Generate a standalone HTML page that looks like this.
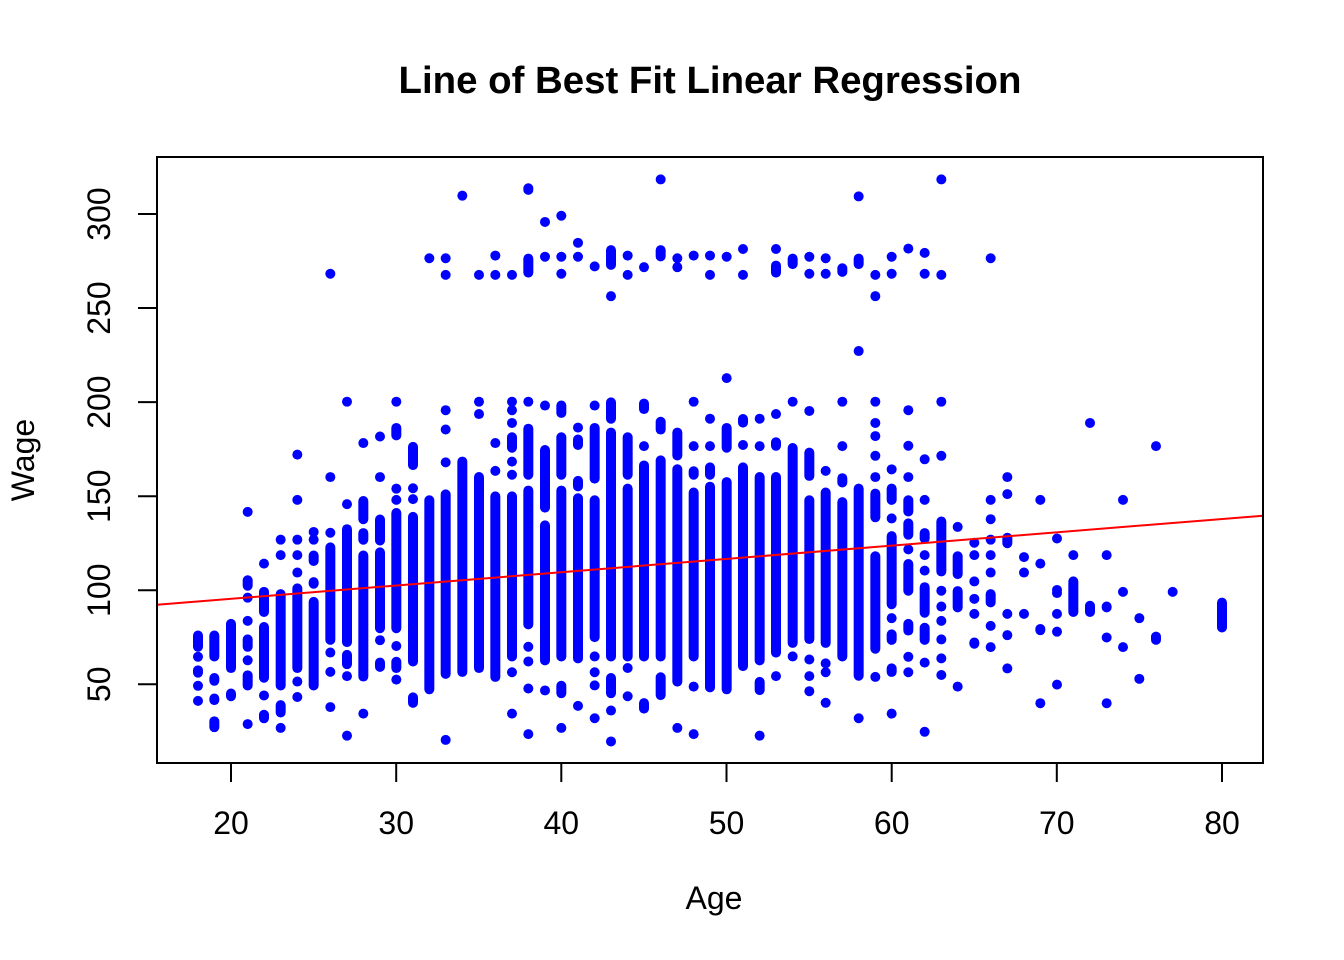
<!DOCTYPE html>
<html><head><meta charset="utf-8"><style>
html,body{margin:0;padding:0;background:#fff;}
svg{display:block;}
text{font-family:"Liberation Sans",Arial,sans-serif;fill:#000;}
</style></head><body>
<svg width="1344" height="960" viewBox="0 0 1344 960" xmlns="http://www.w3.org/2000/svg">
<rect width="1344" height="960" fill="#fff"/>
<text x="710" y="93" font-size="38.4" font-weight="bold" text-anchor="middle">Line of Best Fit Linear Regression</text>

<!-- points group 1: ages 18-37 -->
<g fill="#0000FF" transform="translate(157,157) scale(0.333333,0.38655)">
<rect x="108" y="1225" width="30" height="55" rx="15" ry="12.93"/><ellipse cx="123" cy="1293" rx="15" ry="12.93"/><rect x="108" y="1315" width="30" height="32" rx="15" ry="12.93"/><ellipse cx="123" cy="1368" rx="15" ry="12.93"/><ellipse cx="123" cy="1407" rx="15" ry="12.93"/>
<rect x="157" y="1225" width="30" height="80" rx="15" ry="12.93"/><rect x="157" y="1335" width="30" height="33" rx="15" ry="12.93"/><rect x="157" y="1388" width="30" height="30" rx="15" ry="12.93"/><rect x="157" y="1447" width="30" height="41" rx="15" ry="12.93"/>
<rect x="207" y="1195" width="30" height="140" rx="15" ry="12.93"/><rect x="207" y="1375" width="30" height="33" rx="15" ry="12.93"/>
<ellipse cx="272" cy="918" rx="15" ry="12.93"/><rect x="257" y="1082" width="30" height="40" rx="15" ry="12.93"/><ellipse cx="272" cy="1140" rx="15" ry="12.93"/><ellipse cx="272" cy="1200" rx="15" ry="12.93"/><rect x="257" y="1235" width="30" height="45" rx="15" ry="12.93"/><ellipse cx="272" cy="1302" rx="15" ry="12.93"/><rect x="257" y="1328" width="30" height="52" rx="15" ry="12.93"/><ellipse cx="272" cy="1467" rx="15" ry="12.93"/>
<ellipse cx="321" cy="1052" rx="15" ry="12.93"/><rect x="306" y="1112" width="30" height="78" rx="15" ry="12.93"/><rect x="306" y="1203" width="30" height="157" rx="15" ry="12.93"/><ellipse cx="321" cy="1393" rx="15" ry="12.93"/><rect x="306" y="1430" width="30" height="35" rx="15" ry="12.93"/>
<ellipse cx="371" cy="990" rx="15" ry="12.93"/><ellipse cx="371" cy="1030" rx="15" ry="12.93"/><rect x="356" y="1118" width="30" height="262" rx="15" ry="12.93"/><rect x="356" y="1405" width="30" height="45" rx="15" ry="12.93"/><ellipse cx="371" cy="1477" rx="15" ry="12.93"/>
<ellipse cx="421" cy="770" rx="15" ry="12.93"/><ellipse cx="421" cy="887" rx="15" ry="12.93"/><ellipse cx="421" cy="990" rx="15" ry="12.93"/><ellipse cx="421" cy="1030" rx="15" ry="12.93"/><ellipse cx="421" cy="1075" rx="15" ry="12.93"/><rect x="406" y="1103" width="30" height="232" rx="15" ry="12.93"/><ellipse cx="421" cy="1357" rx="15" ry="12.93"/><ellipse cx="421" cy="1397" rx="15" ry="12.93"/>
<ellipse cx="470" cy="970" rx="15" ry="12.93"/><ellipse cx="470" cy="990" rx="15" ry="12.93"/><rect x="455" y="1018" width="30" height="40" rx="15" ry="12.93"/><rect x="455" y="1087" width="30" height="30" rx="15" ry="12.93"/><rect x="455" y="1138" width="30" height="242" rx="15" ry="12.93"/>
<ellipse cx="520" cy="302" rx="15" ry="12.93"/><ellipse cx="520" cy="828" rx="15" ry="12.93"/><ellipse cx="520" cy="972" rx="15" ry="12.93"/><rect x="505" y="997" width="30" height="265" rx="15" ry="12.93"/><ellipse cx="520" cy="1282" rx="15" ry="12.93"/><ellipse cx="520" cy="1332" rx="15" ry="12.93"/><ellipse cx="520" cy="1423" rx="15" ry="12.93"/>
<ellipse cx="570" cy="633" rx="15" ry="12.93"/><ellipse cx="570" cy="898" rx="15" ry="12.93"/><rect x="555" y="950" width="30" height="318" rx="15" ry="12.93"/><rect x="555" y="1275" width="30" height="50" rx="15" ry="12.93"/><ellipse cx="570" cy="1343" rx="15" ry="12.93"/><ellipse cx="570" cy="1497" rx="15" ry="12.93"/>
<ellipse cx="619" cy="740" rx="15" ry="12.93"/><rect x="604" y="877" width="30" height="73" rx="15" ry="12.93"/><rect x="604" y="960" width="30" height="43" rx="15" ry="12.93"/><rect x="604" y="1018" width="30" height="339" rx="15" ry="12.93"/><ellipse cx="619" cy="1440" rx="15" ry="12.93"/>
<ellipse cx="669" cy="723" rx="15" ry="12.93"/><ellipse cx="669" cy="828" rx="15" ry="12.93"/><rect x="654" y="925" width="30" height="80" rx="15" ry="12.93"/><rect x="654" y="1010" width="30" height="222" rx="15" ry="12.93"/><ellipse cx="669" cy="1250" rx="15" ry="12.93"/><rect x="654" y="1295" width="30" height="37" rx="15" ry="12.93"/>
<ellipse cx="718" cy="633" rx="15" ry="12.93"/><rect x="703" y="688" width="30" height="45" rx="15" ry="12.93"/><ellipse cx="718" cy="858" rx="15" ry="12.93"/><ellipse cx="718" cy="887" rx="15" ry="12.93"/><rect x="703" y="908" width="30" height="324" rx="15" ry="12.93"/><ellipse cx="718" cy="1265" rx="15" ry="12.93"/><rect x="703" y="1293" width="30" height="42" rx="15" ry="12.93"/><ellipse cx="718" cy="1352" rx="15" ry="12.93"/>
<rect x="753" y="737" width="30" height="73" rx="15" ry="12.93"/><ellipse cx="768" cy="857" rx="15" ry="12.93"/><ellipse cx="768" cy="885" rx="15" ry="12.93"/><rect x="753" y="918" width="30" height="400" rx="15" ry="12.93"/><rect x="753" y="1385" width="30" height="40" rx="15" ry="12.93"/>
<ellipse cx="817" cy="262" rx="15" ry="12.93"/><rect x="802" y="875" width="30" height="515" rx="15" ry="12.93"/>
<ellipse cx="866" cy="262" rx="15" ry="12.93"/><ellipse cx="866" cy="305" rx="15" ry="12.93"/><ellipse cx="866" cy="655" rx="15" ry="12.93"/><ellipse cx="866" cy="705" rx="15" ry="12.93"/><ellipse cx="866" cy="790" rx="15" ry="12.93"/><rect x="851" y="860" width="30" height="490" rx="15" ry="12.93"/><ellipse cx="866" cy="1508" rx="15" ry="12.93"/>
<ellipse cx="916" cy="100" rx="15" ry="12.93"/><rect x="901" y="775" width="30" height="570" rx="15" ry="12.93"/>
<ellipse cx="966" cy="305" rx="15" ry="12.93"/><ellipse cx="966" cy="633" rx="15" ry="12.93"/><ellipse cx="966" cy="665" rx="15" ry="12.93"/><rect x="951" y="815" width="30" height="520" rx="15" ry="12.93"/>
<ellipse cx="1015" cy="255" rx="15" ry="12.93"/><ellipse cx="1015" cy="305" rx="15" ry="12.93"/><ellipse cx="1015" cy="740" rx="15" ry="12.93"/><ellipse cx="1015" cy="812" rx="15" ry="12.93"/><rect x="1000" y="865" width="30" height="493" rx="15" ry="12.93"/>
<ellipse cx="1065" cy="305" rx="15" ry="12.93"/><ellipse cx="1065" cy="633" rx="15" ry="12.93"/><ellipse cx="1065" cy="655" rx="15" ry="12.93"/><ellipse cx="1065" cy="688" rx="15" ry="12.93"/><rect x="1050" y="712" width="30" height="53" rx="15" ry="12.93"/><ellipse cx="1065" cy="788" rx="15" ry="12.93"/><ellipse cx="1065" cy="822" rx="15" ry="12.93"/><rect x="1050" y="865" width="30" height="440" rx="15" ry="12.93"/><ellipse cx="1065" cy="1333" rx="15" ry="12.93"/><ellipse cx="1065" cy="1440" rx="15" ry="12.93"/>
</g>

<!-- points group 2: ages 38-59 -->
<g fill="#0000FF" transform="translate(520,157) scale(0.333333,0.38655)">
<rect x="10" y="68" width="30" height="30" rx="15" ry="12.93"/><rect x="10" y="250" width="30" height="62" rx="15" ry="12.93"/><ellipse cx="25" cy="633" rx="15" ry="12.93"/><rect x="10" y="690" width="30" height="145" rx="15" ry="12.93"/><rect x="10" y="850" width="30" height="372" rx="15" ry="12.93"/><ellipse cx="25" cy="1267" rx="15" ry="12.93"/><ellipse cx="25" cy="1305" rx="15" ry="12.93"/><ellipse cx="25" cy="1375" rx="15" ry="12.93"/><ellipse cx="25" cy="1493" rx="15" ry="12.93"/>
<ellipse cx="75" cy="168" rx="15" ry="12.93"/><ellipse cx="75" cy="258" rx="15" ry="12.93"/><ellipse cx="75" cy="643" rx="15" ry="12.93"/><rect x="60" y="745" width="30" height="175" rx="15" ry="12.93"/><rect x="60" y="940" width="30" height="375" rx="15" ry="12.93"/><ellipse cx="75" cy="1380" rx="15" ry="12.93"/>
<ellipse cx="124" cy="152" rx="15" ry="12.93"/><ellipse cx="124" cy="258" rx="15" ry="12.93"/><ellipse cx="124" cy="302" rx="15" ry="12.93"/><rect x="109" y="630" width="30" height="45" rx="15" ry="12.93"/><rect x="109" y="712" width="30" height="123" rx="15" ry="12.93"/><rect x="109" y="850" width="30" height="455" rx="15" ry="12.93"/><rect x="109" y="1355" width="30" height="45" rx="15" ry="12.93"/><ellipse cx="124" cy="1477" rx="15" ry="12.93"/>
<ellipse cx="174" cy="222" rx="15" ry="12.93"/><ellipse cx="174" cy="258" rx="15" ry="12.93"/><ellipse cx="174" cy="700" rx="15" ry="12.93"/><rect x="159" y="718" width="30" height="40" rx="15" ry="12.93"/><rect x="159" y="825" width="30" height="40" rx="15" ry="12.93"/><rect x="159" y="870" width="30" height="440" rx="15" ry="12.93"/><ellipse cx="174" cy="1420" rx="15" ry="12.93"/>
<ellipse cx="224" cy="283" rx="15" ry="12.93"/><ellipse cx="224" cy="643" rx="15" ry="12.93"/><rect x="209" y="688" width="30" height="157" rx="15" ry="12.93"/><rect x="209" y="875" width="30" height="380" rx="15" ry="12.93"/><ellipse cx="224" cy="1292" rx="15" ry="12.93"/><ellipse cx="224" cy="1333" rx="15" ry="12.93"/><ellipse cx="224" cy="1367" rx="15" ry="12.93"/><ellipse cx="224" cy="1452" rx="15" ry="12.93"/>
<rect x="258" y="228" width="30" height="64" rx="15" ry="12.93"/><ellipse cx="273" cy="360" rx="15" ry="12.93"/><rect x="258" y="622" width="30" height="68" rx="15" ry="12.93"/><rect x="258" y="700" width="30" height="605" rx="15" ry="12.93"/><rect x="258" y="1335" width="30" height="65" rx="15" ry="12.93"/><ellipse cx="273" cy="1432" rx="15" ry="12.93"/><ellipse cx="273" cy="1512" rx="15" ry="12.93"/>
<ellipse cx="323" cy="255" rx="15" ry="12.93"/><ellipse cx="323" cy="305" rx="15" ry="12.93"/><rect x="308" y="712" width="30" height="123" rx="15" ry="12.93"/><rect x="308" y="845" width="30" height="460" rx="15" ry="12.93"/><ellipse cx="323" cy="1322" rx="15" ry="12.93"/><ellipse cx="323" cy="1395" rx="15" ry="12.93"/>
<ellipse cx="372" cy="285" rx="15" ry="12.93"/><rect x="357" y="625" width="30" height="40" rx="15" ry="12.93"/><ellipse cx="372" cy="748" rx="15" ry="12.93"/><rect x="357" y="785" width="30" height="520" rx="15" ry="12.93"/><rect x="357" y="1400" width="30" height="40" rx="15" ry="12.93"/>
<ellipse cx="422" cy="58" rx="15" ry="12.93"/><rect x="407" y="228" width="30" height="42" rx="15" ry="12.93"/><rect x="407" y="672" width="30" height="46" rx="15" ry="12.93"/><rect x="407" y="772" width="30" height="533" rx="15" ry="12.93"/><rect x="407" y="1333" width="30" height="72" rx="15" ry="12.93"/>
<ellipse cx="472" cy="262" rx="15" ry="12.93"/><ellipse cx="472" cy="285" rx="15" ry="12.93"/><rect x="457" y="700" width="30" height="85" rx="15" ry="12.93"/><rect x="457" y="795" width="30" height="575" rx="15" ry="12.93"/><ellipse cx="472" cy="1477" rx="15" ry="12.93"/>
<ellipse cx="521" cy="255" rx="15" ry="12.93"/><ellipse cx="521" cy="633" rx="15" ry="12.93"/><ellipse cx="521" cy="748" rx="15" ry="12.93"/><rect x="506" y="800" width="30" height="35" rx="15" ry="12.93"/><rect x="506" y="855" width="30" height="450" rx="15" ry="12.93"/><ellipse cx="521" cy="1370" rx="15" ry="12.93"/><ellipse cx="521" cy="1493" rx="15" ry="12.93"/>
<ellipse cx="570" cy="255" rx="15" ry="12.93"/><ellipse cx="570" cy="305" rx="15" ry="12.93"/><ellipse cx="570" cy="677" rx="15" ry="12.93"/><ellipse cx="570" cy="748" rx="15" ry="12.93"/><rect x="555" y="790" width="30" height="45" rx="15" ry="12.93"/><rect x="555" y="840" width="30" height="545" rx="15" ry="12.93"/>
<ellipse cx="620" cy="258" rx="15" ry="12.93"/><ellipse cx="620" cy="572" rx="15" ry="12.93"/><rect x="605" y="688" width="30" height="77" rx="15" ry="12.93"/><rect x="605" y="828" width="30" height="562" rx="15" ry="12.93"/>
<ellipse cx="669" cy="238" rx="15" ry="12.93"/><ellipse cx="669" cy="305" rx="15" ry="12.93"/><rect x="654" y="665" width="30" height="35" rx="15" ry="12.93"/><ellipse cx="669" cy="745" rx="15" ry="12.93"/><rect x="654" y="790" width="30" height="540" rx="15" ry="12.93"/>
<ellipse cx="719" cy="677" rx="15" ry="12.93"/><ellipse cx="719" cy="748" rx="15" ry="12.93"/><rect x="704" y="815" width="30" height="500" rx="15" ry="12.93"/><rect x="704" y="1345" width="30" height="47" rx="15" ry="12.93"/><ellipse cx="719" cy="1497" rx="15" ry="12.93"/>
<ellipse cx="768" cy="238" rx="15" ry="12.93"/><rect x="753" y="268" width="30" height="44" rx="15" ry="12.93"/><ellipse cx="768" cy="665" rx="15" ry="12.93"/><rect x="753" y="725" width="30" height="35" rx="15" ry="12.93"/><rect x="753" y="815" width="30" height="480" rx="15" ry="12.93"/><ellipse cx="768" cy="1343" rx="15" ry="12.93"/>
<rect x="803" y="250" width="30" height="40" rx="15" ry="12.93"/><ellipse cx="818" cy="633" rx="15" ry="12.93"/><rect x="803" y="740" width="30" height="530" rx="15" ry="12.93"/><ellipse cx="818" cy="1292" rx="15" ry="12.93"/>
<ellipse cx="868" cy="258" rx="15" ry="12.93"/><ellipse cx="868" cy="302" rx="15" ry="12.93"/><ellipse cx="868" cy="657" rx="15" ry="12.93"/><rect x="853" y="752" width="30" height="86" rx="15" ry="12.93"/><rect x="853" y="875" width="30" height="385" rx="15" ry="12.93"/><ellipse cx="868" cy="1300" rx="15" ry="12.93"/><ellipse cx="868" cy="1343" rx="15" ry="12.93"/><ellipse cx="868" cy="1382" rx="15" ry="12.93"/>
<ellipse cx="917" cy="262" rx="15" ry="12.93"/><ellipse cx="917" cy="302" rx="15" ry="12.93"/><ellipse cx="917" cy="812" rx="15" ry="12.93"/><rect x="902" y="855" width="30" height="415" rx="15" ry="12.93"/><ellipse cx="917" cy="1310" rx="15" ry="12.93"/><ellipse cx="917" cy="1333" rx="15" ry="12.93"/><ellipse cx="917" cy="1412" rx="15" ry="12.93"/>
<rect x="952" y="275" width="30" height="35" rx="15" ry="12.93"/><ellipse cx="967" cy="633" rx="15" ry="12.93"/><ellipse cx="967" cy="748" rx="15" ry="12.93"/><rect x="952" y="818" width="30" height="37" rx="15" ry="12.93"/><rect x="952" y="880" width="30" height="425" rx="15" ry="12.93"/>
<ellipse cx="1016" cy="102" rx="15" ry="12.93"/><rect x="1001" y="250" width="30" height="40" rx="15" ry="12.93"/><ellipse cx="1016" cy="502" rx="15" ry="12.93"/><rect x="1001" y="845" width="30" height="510" rx="15" ry="12.93"/><ellipse cx="1016" cy="1452" rx="15" ry="12.93"/>
<ellipse cx="1066" cy="305" rx="15" ry="12.93"/><ellipse cx="1066" cy="360" rx="15" ry="12.93"/><ellipse cx="1066" cy="633" rx="15" ry="12.93"/><ellipse cx="1066" cy="688" rx="15" ry="12.93"/><ellipse cx="1066" cy="722" rx="15" ry="12.93"/><ellipse cx="1066" cy="773" rx="15" ry="12.93"/><ellipse cx="1066" cy="828" rx="15" ry="12.93"/><rect x="1051" y="858" width="30" height="87" rx="15" ry="12.93"/><rect x="1051" y="1020" width="30" height="265" rx="15" ry="12.93"/><ellipse cx="1066" cy="1345" rx="15" ry="12.93"/>
</g>

<!-- points group 3: ages 60-80 -->
<g fill="#0000FF" transform="translate(880,157) scale(0.333333,0.38655)">
<ellipse cx="35" cy="258" rx="15" ry="12.93"/><ellipse cx="35" cy="302" rx="15" ry="12.93"/><ellipse cx="35" cy="808" rx="15" ry="12.93"/><rect x="20" y="845" width="30" height="55" rx="15" ry="12.93"/><ellipse cx="35" cy="935" rx="15" ry="12.93"/><rect x="20" y="968" width="30" height="202" rx="15" ry="12.93"/><ellipse cx="35" cy="1193" rx="15" ry="12.93"/><rect x="20" y="1222" width="30" height="40" rx="15" ry="12.93"/><rect x="20" y="1310" width="30" height="35" rx="15" ry="12.93"/><ellipse cx="35" cy="1440" rx="15" ry="12.93"/>
<ellipse cx="85" cy="237" rx="15" ry="12.93"/><ellipse cx="85" cy="655" rx="15" ry="12.93"/><ellipse cx="85" cy="747" rx="15" ry="12.93"/><ellipse cx="85" cy="828" rx="15" ry="12.93"/><rect x="70" y="875" width="30" height="55" rx="15" ry="12.93"/><rect x="70" y="935" width="30" height="55" rx="15" ry="12.93"/><ellipse cx="85" cy="1015" rx="15" ry="12.93"/><rect x="70" y="1040" width="30" height="95" rx="15" ry="12.93"/><rect x="70" y="1195" width="30" height="43" rx="15" ry="12.93"/><ellipse cx="85" cy="1293" rx="15" ry="12.93"/><ellipse cx="85" cy="1333" rx="15" ry="12.93"/>
<ellipse cx="134" cy="248" rx="15" ry="12.93"/><ellipse cx="134" cy="302" rx="15" ry="12.93"/><ellipse cx="134" cy="782" rx="15" ry="12.93"/><ellipse cx="134" cy="887" rx="15" ry="12.93"/><rect x="119" y="960" width="30" height="40" rx="15" ry="12.93"/><ellipse cx="134" cy="1030" rx="15" ry="12.93"/><ellipse cx="134" cy="1070" rx="15" ry="12.93"/><rect x="119" y="1100" width="30" height="92" rx="15" ry="12.93"/><rect x="119" y="1205" width="30" height="57" rx="15" ry="12.93"/><ellipse cx="134" cy="1308" rx="15" ry="12.93"/><ellipse cx="134" cy="1487" rx="15" ry="12.93"/>
<ellipse cx="184" cy="58" rx="15" ry="12.93"/><ellipse cx="184" cy="305" rx="15" ry="12.93"/><ellipse cx="184" cy="633" rx="15" ry="12.93"/><ellipse cx="184" cy="773" rx="15" ry="12.93"/><rect x="169" y="930" width="30" height="155" rx="15" ry="12.93"/><ellipse cx="184" cy="1122" rx="15" ry="12.93"/><ellipse cx="184" cy="1163" rx="15" ry="12.93"/><ellipse cx="184" cy="1200" rx="15" ry="12.93"/><ellipse cx="184" cy="1248" rx="15" ry="12.93"/><ellipse cx="184" cy="1297" rx="15" ry="12.93"/><ellipse cx="184" cy="1340" rx="15" ry="12.93"/>
<ellipse cx="233" cy="957" rx="15" ry="12.93"/><rect x="218" y="1020" width="30" height="72" rx="15" ry="12.93"/><rect x="218" y="1110" width="30" height="68" rx="15" ry="12.93"/><ellipse cx="233" cy="1370" rx="15" ry="12.93"/>
<ellipse cx="283" cy="998" rx="15" ry="12.93"/><ellipse cx="283" cy="1030" rx="15" ry="12.93"/><ellipse cx="283" cy="1098" rx="15" ry="12.93"/><ellipse cx="283" cy="1143" rx="15" ry="12.93"/><ellipse cx="283" cy="1182" rx="15" ry="12.93"/><rect x="268" y="1243" width="30" height="29" rx="15" ry="12.93"/>
<ellipse cx="332" cy="262" rx="15" ry="12.93"/><ellipse cx="332" cy="887" rx="15" ry="12.93"/><ellipse cx="332" cy="937" rx="15" ry="12.93"/><ellipse cx="332" cy="990" rx="15" ry="12.93"/><ellipse cx="332" cy="1030" rx="15" ry="12.93"/><ellipse cx="332" cy="1075" rx="15" ry="12.93"/><rect x="317" y="1118" width="30" height="47" rx="15" ry="12.93"/><ellipse cx="332" cy="1213" rx="15" ry="12.93"/><ellipse cx="332" cy="1268" rx="15" ry="12.93"/>
<ellipse cx="382" cy="828" rx="15" ry="12.93"/><ellipse cx="382" cy="872" rx="15" ry="12.93"/><rect x="367" y="972" width="30" height="40" rx="15" ry="12.93"/><ellipse cx="382" cy="1182" rx="15" ry="12.93"/><ellipse cx="382" cy="1237" rx="15" ry="12.93"/><ellipse cx="382" cy="1323" rx="15" ry="12.93"/>
<ellipse cx="432" cy="1035" rx="15" ry="12.93"/><ellipse cx="432" cy="1075" rx="15" ry="12.93"/><ellipse cx="432" cy="1182" rx="15" ry="12.93"/>
<ellipse cx="481" cy="887" rx="15" ry="12.93"/><ellipse cx="481" cy="1052" rx="15" ry="12.93"/><rect x="466" y="1208" width="30" height="29" rx="15" ry="12.93"/><ellipse cx="481" cy="1413" rx="15" ry="12.93"/>
<ellipse cx="531" cy="987" rx="15" ry="12.93"/><ellipse cx="531" cy="1120" rx="15" ry="12.93"/><ellipse cx="531" cy="1128" rx="15" ry="12.93"/><ellipse cx="531" cy="1182" rx="15" ry="12.93"/><ellipse cx="531" cy="1228" rx="15" ry="12.93"/><ellipse cx="531" cy="1365" rx="15" ry="12.93"/>
<ellipse cx="580" cy="1030" rx="15" ry="12.93"/><rect x="565" y="1085" width="30" height="105" rx="15" ry="12.93"/>
<ellipse cx="630" cy="688" rx="15" ry="12.93"/><rect x="615" y="1148" width="30" height="42" rx="15" ry="12.93"/>
<ellipse cx="680" cy="1030" rx="15" ry="12.93"/><rect x="665" y="1150" width="30" height="28" rx="15" ry="12.93"/><ellipse cx="680" cy="1243" rx="15" ry="12.93"/><ellipse cx="680" cy="1413" rx="15" ry="12.93"/>
<ellipse cx="729" cy="887" rx="15" ry="12.93"/><ellipse cx="729" cy="1125" rx="15" ry="12.93"/><ellipse cx="729" cy="1268" rx="15" ry="12.93"/>
<ellipse cx="778" cy="1193" rx="15" ry="12.93"/><ellipse cx="778" cy="1350" rx="15" ry="12.93"/>
<ellipse cx="828" cy="748" rx="15" ry="12.93"/><rect x="813" y="1228" width="30" height="34" rx="15" ry="12.93"/>
<ellipse cx="878" cy="1125" rx="15" ry="12.93"/>
<rect x="1011" y="1140" width="30" height="90" rx="15" ry="12.93"/>
</g>

<!-- regression line -->
<line x1="157" y1="604.8" x2="1263" y2="515.7" stroke="#FF0000" stroke-width="2"/>

<!-- plot box -->
<rect x="157" y="157" width="1106" height="606" fill="none" stroke="#000" stroke-width="2"/>

<!-- x axis ticks -->
<g stroke="#000" stroke-width="2">
<line x1="231" y1="763" x2="231" y2="782"/>
<line x1="396.2" y1="763" x2="396.2" y2="782"/>
<line x1="561.3" y1="763" x2="561.3" y2="782"/>
<line x1="726.5" y1="763" x2="726.5" y2="782"/>
<line x1="891.7" y1="763" x2="891.7" y2="782"/>
<line x1="1056.8" y1="763" x2="1056.8" y2="782"/>
<line x1="1222" y1="763" x2="1222" y2="782"/>
</g>
<g font-size="32" text-anchor="middle">
<text x="231" y="834">20</text>
<text x="396.2" y="834">30</text>
<text x="561.3" y="834">40</text>
<text x="726.5" y="834">50</text>
<text x="891.7" y="834">60</text>
<text x="1056.8" y="834">70</text>
<text x="1222" y="834">80</text>
</g>

<!-- y axis ticks -->
<g stroke="#000" stroke-width="2">
<line x1="138" y1="684.3" x2="157" y2="684.3"/>
<line x1="138" y1="590.2" x2="157" y2="590.2"/>
<line x1="138" y1="496.2" x2="157" y2="496.2"/>
<line x1="138" y1="402.1" x2="157" y2="402.1"/>
<line x1="138" y1="308.0" x2="157" y2="308.0"/>
<line x1="138" y1="214.0" x2="157" y2="214.0"/>
</g>
<g font-size="32" text-anchor="middle">
<text transform="translate(110,684.3) rotate(-90)">50</text>
<text transform="translate(110,590.2) rotate(-90)">100</text>
<text transform="translate(110,496.2) rotate(-90)">150</text>
<text transform="translate(110,402.1) rotate(-90)">200</text>
<text transform="translate(110,308.0) rotate(-90)">250</text>
<text transform="translate(110,214.0) rotate(-90)">300</text>
</g>

<!-- axis labels -->
<text x="714" y="909" font-size="32" text-anchor="middle">Age</text>
<text transform="translate(34,460) rotate(-90)" font-size="32" text-anchor="middle">Wage</text>
</svg>
</body></html>
